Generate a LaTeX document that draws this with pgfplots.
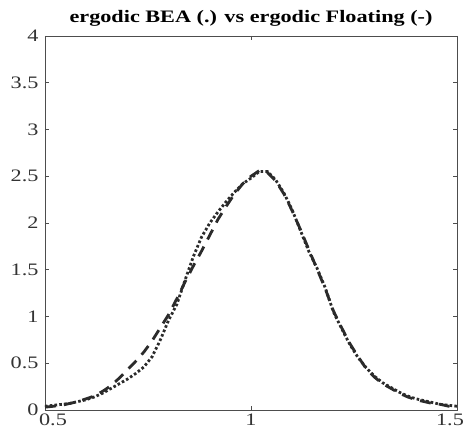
\documentclass[border=0pt]{standalone}
\usepackage{fontspec}
\setmainfont[FakeStretch=1.27]{Liberation Serif}
\usepackage{pgfplots}
\pgfplotsset{compat=1.18}
\definecolor{curve}{HTML}{2B2B2B}
\definecolor{axcol}{HTML}{4D4D4D}
\begin{document}
\begin{tikzpicture}
\begin{axis}[
  scale only axis,
  width=412pt, height=374pt,
  xmin=0.5, xmax=1.5, ymin=0, ymax=4,
  xtick={0.5,1,1.5},
  ytick={0,0.5,1,1.5,2,2.5,3,3.5,4},
  yticklabels={0,0.5,1,1.5,2,2.5,3,3.5,4},
  xticklabels={\hspace*{16pt}0.5,1,1.5\hspace*{14pt}},
  tick align=inside,
  major tick length=4pt,
  axis line style={axcol, line width=0.8pt},
  every tick/.style={axcol, line width=0.6pt},
  tick label style={font=\fontsize{17.5}{20}\selectfont, text=black!80},
  /pgf/number format/assume math mode=true,
  title={\textbf{ergodic BEA (.) vs ergodic Floating (-)}},
  title style={font=\fontsize{17.5}{20}\selectfont, yshift=0pt},
  xticklabel style={yshift=0pt},
  yticklabel style={xshift=-3pt},
]
\addplot[curve, line width=2.8pt, dash pattern=on 2.6pt off 2.2pt] coordinates {
(0.50,0.04)(0.52,0.05)(0.54,0.06)(0.56,0.07)(0.58,0.09)(0.60,0.11)(0.62,0.14)
(0.64,0.18)(0.66,0.23)(0.68,0.28)(0.70,0.33)(0.72,0.39)(0.74,0.46)(0.76,0.57)
(0.78,0.75)(0.80,0.96)(0.82,1.13)(0.84,1.39)(0.86,1.64)(0.88,1.85)(0.90,2.00)
(0.92,2.12)(0.94,2.23)(0.96,2.33)(0.98,2.42)(1.00,2.48)(1.02,2.55)(1.04,2.55)
(1.06,2.46)(1.08,2.32)(1.10,2.14)(1.12,1.92)(1.14,1.70)(1.16,1.52)(1.18,1.31)
(1.20,1.05)(1.22,0.87)(1.24,0.70)(1.26,0.56)(1.28,0.45)(1.30,0.36)(1.32,0.29)
(1.34,0.24)(1.36,0.19)(1.38,0.15)(1.40,0.12)(1.42,0.10)(1.44,0.08)(1.46,0.06)
(1.48,0.05)(1.50,0.04)
};
\addplot[curve, line width=2.8pt, dash pattern=on 11pt off 8pt] coordinates {
(0.50,0.03)(0.52,0.04)(0.54,0.05)(0.56,0.07)(0.58,0.09)(0.60,0.12)(0.62,0.15)
(0.64,0.20)(0.66,0.26)(0.68,0.34)(0.70,0.43)(0.72,0.52)(0.74,0.62)(0.76,0.74)
(0.78,0.88)(0.80,1.02)(0.82,1.19)(0.84,1.37)(0.86,1.54)(0.88,1.70)(0.90,1.87)
(0.92,2.04)(0.94,2.18)(0.96,2.31)(0.98,2.42)(1.00,2.50)(1.02,2.56)(1.04,2.54)
(1.06,2.45)(1.08,2.31)(1.10,2.13)(1.12,1.93)(1.14,1.72)(1.16,1.51)(1.18,1.30)
(1.20,1.06)(1.22,0.88)(1.24,0.71)(1.26,0.57)(1.28,0.44)(1.30,0.35)(1.32,0.28)
(1.34,0.23)(1.36,0.18)(1.38,0.14)(1.40,0.11)(1.42,0.09)(1.44,0.07)(1.46,0.06)
(1.48,0.04)(1.50,0.03)
};
\end{axis}
\pgfresetboundingbox
\path[use as bounding box] ([shift={(-45pt,-32pt)}]current axis.south west) rectangle ([shift={(7pt,36pt)}]current axis.north east);
\end{tikzpicture}
\end{document}
